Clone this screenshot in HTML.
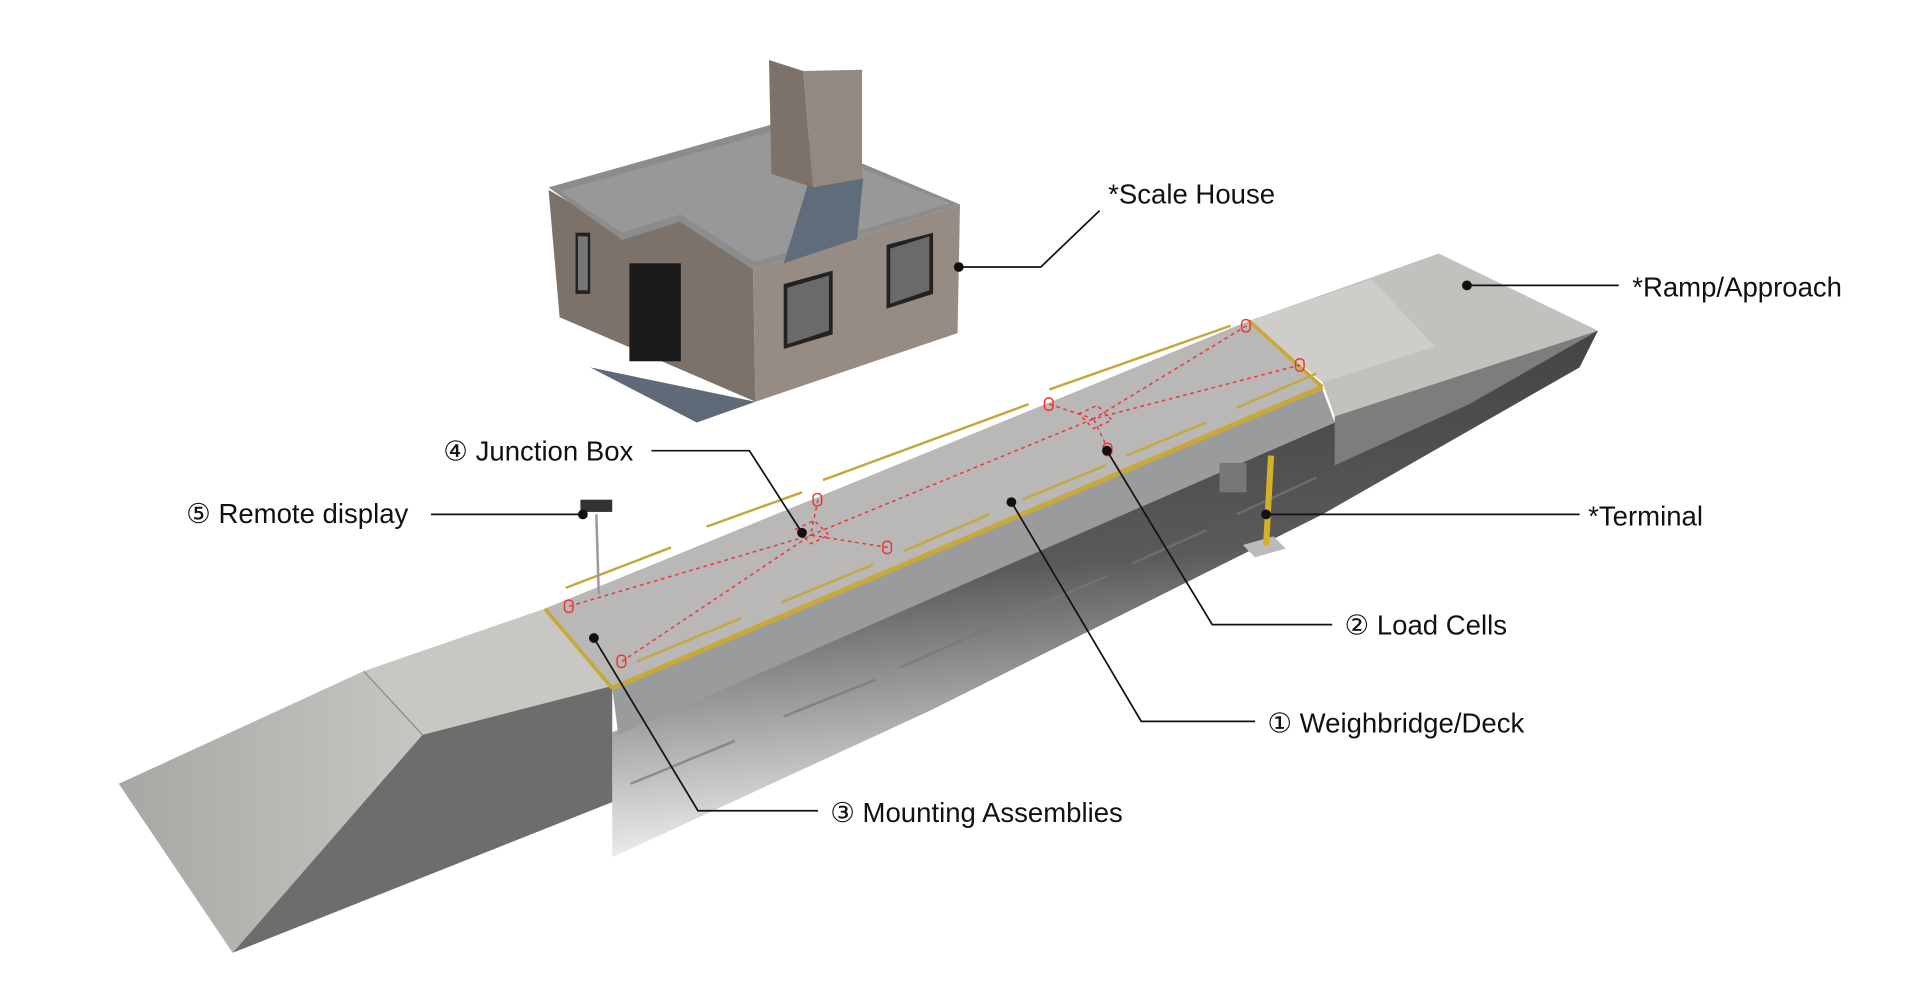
<!DOCTYPE html>
<html><head><meta charset="utf-8"><style>
html,body{margin:0;padding:0;background:#fff;}
svg{display:block}
text{font-family:"Liberation Sans",sans-serif;font-size:22.5px;fill:#111;}
</style></head><body>
<svg width="1920" height="992" viewBox="0 0 1568 810" preserveAspectRatio="none" xmlns="http://www.w3.org/2000/svg">
<defs>
<linearGradient id="sh" x1="0" y1="0" x2="0.15" y2="1">
<stop offset="0" stop-color="#3a3a3a"/><stop offset="0.5" stop-color="#5a5a5a"/><stop offset="1" stop-color="#f2f2f2"/>
</linearGradient>
<linearGradient id="ramp" x1="0" y1="0" x2="1" y2="0">
<stop offset="0" stop-color="#a9a7a4"/><stop offset="1" stop-color="#c8c6c3"/>
</linearGradient>
</defs>
<rect width="1568" height="810" fill="#fff"/>
<!-- big shadow -->
<polygon points="500,598 1090,345 1305,270 1290,300 1080,420 760,580 500,700" fill="url(#sh)"/>
<g stroke="#777" stroke-width="2" opacity="0.7">
<line x1="515" y1="640" x2="600" y2="605"/><line x1="640" y1="585" x2="715" y2="555"/><line x1="735" y1="545" x2="810" y2="512"/><line x1="835" y1="500" x2="905" y2="470"/><line x1="925" y1="460" x2="985" y2="433"/><line x1="1010" y1="420" x2="1075" y2="390"/>
</g>
<!-- left ramp -->
<polygon points="97,640 297,548 345,600 190,778" fill="url(#ramp)"/>
<polygon points="297,548 445,497 500,560 345,600" fill="#c9c7c4"/>
<polygon points="190,778 345,600 500,560 500,655" fill="#6e6d6b"/>
<line x1="297" y1="548" x2="345" y2="600" stroke="#888" stroke-width="1"/>
<!-- right ramp -->
<polygon points="1020,262 1175,207 1305,270 1090,340 1080,312" fill="#c3c1be"/>
<polygon points="1020,262 1120,228 1172,283 1080,312" fill="#cfcdca"/>
<polygon points="1090,340 1305,270 1200,330 1090,380" fill="#7e7d7b"/>
<!-- deck pit wall -->
<polygon points="500,562 1080,318 1090,345 505,600" fill="#9a9b9c"/>
<!-- deck top -->
<polygon points="445,497 1020,262 1080,316 500,562" fill="#b9b8b6"/>
<line x1="500" y1="562" x2="1080" y2="316" stroke="#c9a83a" stroke-width="4"/>
<line x1="445" y1="497" x2="500" y2="562" stroke="#c9a83a" stroke-width="3"/>
<line x1="1020" y1="262" x2="1080" y2="316" stroke="#c9a83a" stroke-width="3"/>
<!-- rails -->
<g stroke="#c3a83e" stroke-width="2" fill="none">
<polyline points="462,480 548,447"/><polyline points="577,430 655,402"/><polyline points="672,392 840,330"/><polyline points="857,318 1005,266"/>
<polyline points="520,540 605,505"/><polyline points="638,492 713,461"/><polyline points="738,450 808,420"/><polyline points="835,408 903,380"/><polyline points="920,372 985,345"/><polyline points="1010,333 1075,305"/>
</g>
<!-- red dashed wiring -->
<g stroke="#e33" stroke-width="1.2" stroke-dasharray="3,3" fill="none">
<line x1="465" y1="495" x2="662" y2="437"/><line x1="508" y1="540" x2="662" y2="437"/>
<line x1="668" y1="408" x2="662" y2="437"/><line x1="725" y1="447" x2="662" y2="437"/>
<line x1="662" y1="437" x2="893" y2="342"/>
<line x1="857" y1="330" x2="893" y2="342"/><line x1="905" y1="367" x2="893" y2="342"/>
<line x1="1018" y1="266" x2="893" y2="342"/><line x1="1062" y1="298" x2="893" y2="342"/>
<polygon points="650,432 665,425 677,437 662,444"/><polygon points="881,338 896,331 908,343 893,350"/>
</g>
<g fill="none" stroke="#e33" stroke-width="1.2">
<rect x="461" y="490" width="7" height="10" rx="3"/><rect x="504" y="535" width="7" height="10" rx="3"/>
<rect x="664" y="403" width="7" height="10" rx="3"/><rect x="721" y="442" width="7" height="10" rx="3"/>
<rect x="853" y="325" width="7" height="10" rx="3"/><rect x="901" y="362" width="7" height="10" rx="3"/>
<rect x="1014" y="261" width="7" height="10" rx="3"/><rect x="1058" y="293" width="7" height="10" rx="3"/>
</g>
<!-- house -->
<polygon points="482,300 617,328 569,345" fill="#5e6a78"/>
<polygon points="448,155 508,190 555,178 615,220 617,328 457,259" fill="#7d7269"/>
<polygon points="615,220 784,167 782,272 617,328" fill="#978c83"/>
<polygon points="448,153 629,102 784,167 615,220 555,181 508,196" fill="#8c8c8c"/>
<polygon points="457,156 629,108 776,166 616,214 556,175 508,190" fill="#989898"/>
<polygon points="660,150 705,145 700,195 640,215" fill="#5f6c7b"/>
<polygon points="628,49 656,58 664,153 630,142" fill="#7d7269"/>
<polygon points="656,58 704,57 704,146 664,153" fill="#948980"/>
<rect x="514" y="215" width="42" height="80" fill="#1a1a1a"/>
<rect x="470" y="190" width="12" height="50" fill="#222"/><rect x="472" y="193" width="8" height="44" fill="#777"/>
<polygon points="640,232 680,221 680,273 640,285" fill="#222"/><polygon points="643,235 677,225 677,270 643,281" fill="#6c6a68"/>
<polygon points="724,200 762,190 762,240 724,252" fill="#222"/><polygon points="727,203 759,193 759,237 727,248" fill="#6c6a68"/>
<!-- remote display -->
<line x1="487" y1="420" x2="489" y2="485" stroke="#999" stroke-width="2"/>
<rect x="474" y="408" width="26" height="10" fill="#333"/>
<!-- terminal -->
<polygon points="1015,445 1040,438 1050,448 1025,455" fill="#bbb"/>
<line x1="1038" y1="372" x2="1034" y2="445" stroke="#d4b026" stroke-width="5"/>
<rect x="996" y="378" width="22" height="24" fill="#777"/>
<!-- leaders -->
<g stroke="#111" stroke-width="1.4" fill="none">
<polyline points="783,218 850,218 898,172"/>
<polyline points="1198,233 1322,233"/>
<polyline points="532,368 612,368 655,435"/>
<polyline points="352,420 476,420"/>
<polyline points="1034,420 1290,420"/>
<polyline points="904,368 990,510 1088,510"/>
<polyline points="826,410 932,589 1025,589"/>
<polyline points="485,521 570,662 668,662"/>
</g>
<g fill="#111">
<circle cx="783" cy="218" r="4"/><circle cx="1198" cy="233" r="4"/><circle cx="655" cy="435" r="4"/><circle cx="476" cy="420" r="4"/>
<circle cx="1034" cy="420" r="4"/><circle cx="904" cy="368" r="4"/><circle cx="826" cy="410" r="4"/><circle cx="485" cy="521" r="4"/>
</g>
<text x="905" y="166">*Scale House</text>
<text x="1333" y="242">*Ramp/Approach</text>
<text x="362" y="376">④ Junction Box</text>
<text x="152" y="427">⑤ Remote display</text>
<text x="1297" y="429">*Terminal</text>
<text x="1098" y="518">② Load Cells</text>
<text x="1035" y="598">① Weighbridge/Deck</text>
<text x="678" y="671">③ Mounting Assemblies</text>
</svg>
</body></html>
